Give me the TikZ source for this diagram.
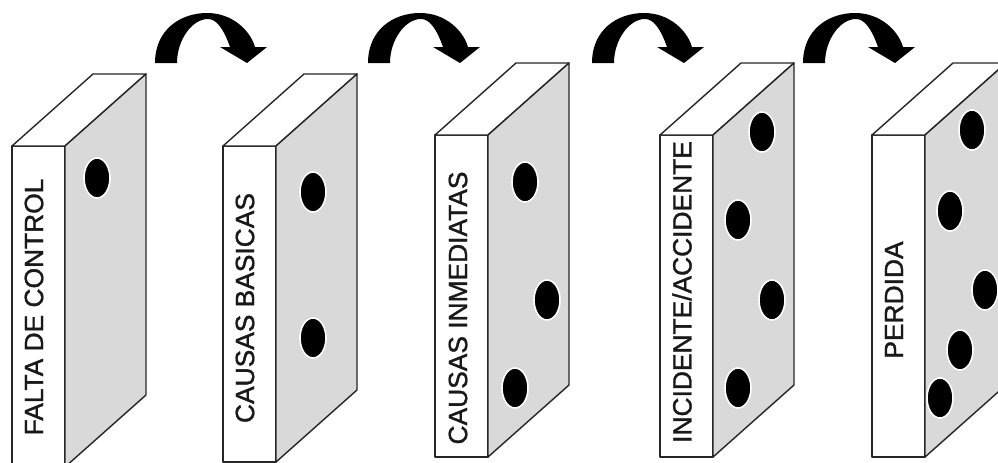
\documentclass[tikz,border=0pt]{standalone}
\usepackage{fontspec}
\setmainfont{Liberation Sans}
\newfontfamily\labelfont{Liberation Sans}[FakeBold=1.3]
\usepackage{tikz}

\begin{document}
\begin{tikzpicture}[x=0.02cm, y=-0.02cm,
% common options for the domino faces:
front/.style = {draw=black!85, fill=white, line width=0.8pt, line join=round},
side/.style = {draw=black!85, fill=black!15, line width=0.8pt, line join=round},
% common options for the dots:
dot/.style = {fill=black, draw=white, line width=0.9pt},
% common options for the labels:
label/.style = {rotate=90, inner sep=0, text=black!90,
            font=\labelfont\fontsize{15}{15}\selectfont},
bendarrow/.style = {fill=black}]
\useasboundingbox (0,0) rectangle (998,463);
\clip (0,0) rectangle (998,463);

% dominoes
\foreach \x/\t/\b in {12/146/467, 223/146/462, 435/135/457, 660/135/457, 872/135/457}{
  \draw[front] (\x,\t) rectangle (\x+53,\b);
  \draw[front] (\x,\t) -- (\x+81,\t-72) -- (\x+134,\t-72) -- (\x+53,\t) -- cycle;
  \draw[side] (\x+53,\t) -- (\x+134,\t-72) -- (\x+134,\b-72) -- (\x+53,\b) -- cycle;
}

\node[label] (L1) at (34,307) {FALTA DE CONTROL};
\node[label] (L2) at (245,308) {CAUSAS BASICAS};
\node[label] (L3) at (458,308) {CAUSAS INMEDIATAS};
\node[label] (L4) at (682,292) {INCIDENTE/ACCIDENTE};
\node[label] (L5) at (894,300) {PERDIDA};

% dots
\foreach \p in {(97,178),
                (313,192), (313,338),
                (525,182), (547,300), (515,388),
                (762,132), (738,220), (772,300), (738,388),
                (972,130), (950,211), (985,290), (960,350), (940,398)}
  \draw[dot] \p ellipse [x radius=13, y radius=20];

% curved arrows
\foreach \s in {0,213,437,648}
  \fill[bendarrow, shift={(\s,0)}] (155,63) .. controls (155,30) and (180,13) .. (207,13)
     .. controls (232,13) and (250,30) .. (255,47) -- (267,47) -- (247,63) -- (220,47)
     -- (230,47) .. controls (224,30) and (217,19) .. (208,19)
     .. controls (192,19) and (177,40) .. (177,63) -- cycle;
\end{tikzpicture}
\end{document}
